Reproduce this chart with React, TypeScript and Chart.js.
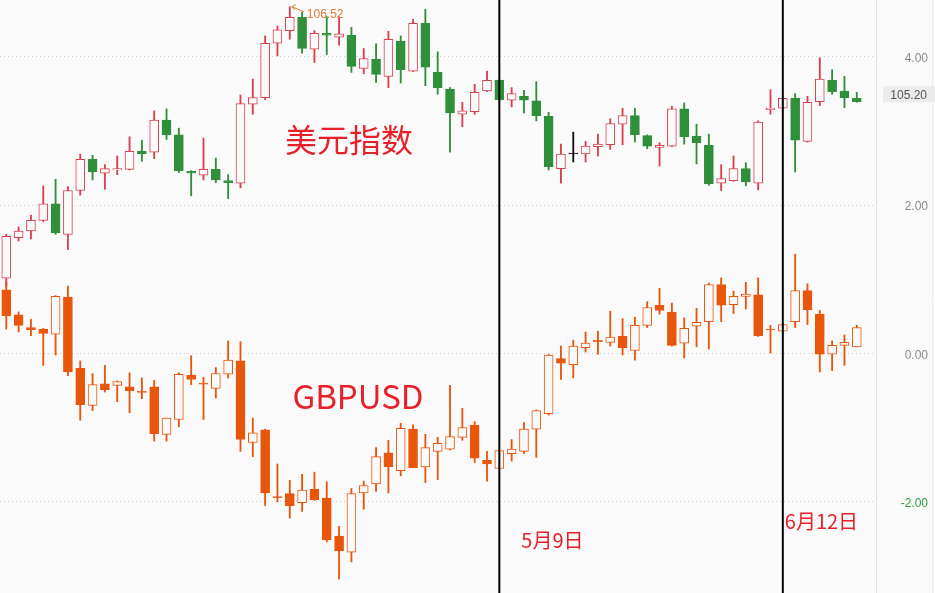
import React, { useEffect, useRef } from 'react';
import { Chart, registerables } from 'chart.js';

Chart.register(...registerables);

// ---- 美元指数 (DXY) daily candles, price units ----
const dxyOpen = [102.43, 103.04, 103.14, 103.30, 103.55, 103.09, 103.75, 104.22, 104.01, 104.06, 104.07, 104.34, 104.33, 104.81, 104.59, 104.04, 103.98, 104.07, 103.90, 103.86, 105.05, 105.15, 105.97, 106.16, 106.36, 105.88, 106.12, 106.06, 106.09, 105.59, 105.73, 105.47, 106.00, 105.55, 106.27, 105.53, 105.28, 104.90, 104.94, 105.25, 105.41, 105.11, 105.17, 105.10, 104.87, 104.08, 104.30, 104.30, 104.41, 104.44, 104.75, 104.88, 104.58, 104.40, 104.42, 104.98, 104.57, 104.43, 103.86, 103.90, 104.08, 103.86, 104.97, 104.99, 105.14, 104.49, 105.09, 105.41, 105.25, 105.14];
const dxyHigh = [103.09, 103.20, 103.38, 103.82, 103.92, 103.81, 104.30, 104.28, 104.14, 104.27, 104.56, 104.51, 104.95, 104.98, 104.69, 104.05, 104.54, 104.24, 103.99, 105.19, 105.43, 106.08, 106.23, 106.52, 106.44, 106.16, 106.37, 106.37, 106.21, 105.89, 105.96, 106.15, 106.08, 106.33, 106.48, 105.84, 105.30, 105.08, 105.35, 105.55, 105.42, 105.30, 105.26, 105.39, 104.93, 104.45, 104.63, 104.49, 104.60, 104.83, 104.99, 104.99, 104.59, 104.47, 105.02, 105.07, 104.75, 104.60, 104.14, 104.27, 104.17, 104.80, 105.27, 105.15, 105.21, 105.17, 105.75, 105.57, 105.47, 105.23];
const dxyLow = [102.31, 102.99, 103.02, 103.28, 103.09, 102.86, 103.68, 103.91, 103.77, 103.99, 104.06, 104.19, 104.23, 104.52, 104.02, 103.67, 103.91, 103.87, 103.63, 103.79, 104.90, 105.12, 105.78, 106.03, 105.82, 105.68, 105.80, 105.94, 105.53, 105.51, 105.38, 105.30, 105.37, 105.54, 105.33, 105.20, 104.33, 104.71, 104.90, 105.24, 105.11, 105.01, 104.92, 104.80, 104.06, 103.86, 104.18, 104.18, 104.27, 104.37, 104.44, 104.48, 104.38, 104.12, 104.41, 104.45, 104.15, 103.83, 103.75, 103.89, 103.82, 103.76, 104.90, 104.98, 104.03, 104.48, 105.03, 105.20, 105.00, 105.08];
const dxyClose = [103.06, 103.14, 103.30, 103.55, 103.11, 103.75, 104.22, 104.03, 104.08, 104.08, 104.34, 104.30, 104.81, 104.59, 104.05, 104.01, 104.07, 103.91, 103.87, 105.06, 105.15, 105.97, 106.17, 106.36, 105.89, 106.12, 106.09, 106.11, 105.62, 105.74, 105.50, 106.03, 105.57, 106.27, 105.61, 105.30, 104.92, 104.95, 105.23, 105.41, 105.12, 105.21, 105.11, 104.88, 104.11, 104.30, 104.30, 104.42, 104.45, 104.76, 104.88, 104.59, 104.42, 104.43, 104.98, 104.56, 104.47, 103.85, 103.93, 104.08, 103.88, 104.78, 104.99, 105.14, 104.51, 105.08, 105.43, 105.24, 105.15, 105.09];
const dxyLastPrice = 105.20;

// ---- GBPUSD daily candles, % change (right axis) ----
const gbpOpen = [0.86, 0.52, 0.35, 0.33, 0.26, 0.76, -0.20, -0.70, -0.41, -0.43, -0.45, -0.51, -0.45, -1.09, -0.89, -0.29, -0.40, -0.47, -0.28, -0.10, -1.20, -1.03, -1.93, -1.89, -2.01, -1.83, -1.95, -2.46, -2.68, -1.88, -1.76, -1.34, -1.58, -1.02, -1.53, -1.32, -1.29, -1.13, -0.97, -1.44, -1.55, -1.35, -1.32, -1.02, -0.81, -0.07, -0.15, 0.08, 0.18, 0.15, 0.23, 0.04, 0.38, 0.65, 0.56, 0.14, 0.37, 0.43, 0.93, 0.66, 0.77, 0.79, 0.33, 0.30, 0.43, 0.85, 0.53, -0.01, 0.11, 0.09];
const gbpHigh = [0.96, 0.56, 0.46, 0.34, 0.78, 0.91, -0.10, -0.27, -0.16, -0.37, -0.26, -0.33, -0.36, -0.87, -0.26, -0.03, -0.32, -0.19, 0.17, 0.16, -0.87, -1.02, -1.49, -1.71, -1.63, -1.60, -1.73, -2.33, -1.82, -1.72, -1.27, -1.17, -0.94, -0.96, -1.09, -1.13, -0.43, -0.74, -0.92, -1.32, -1.30, -1.16, -0.93, -0.76, -0.01, 0.10, 0.18, 0.29, 0.30, 0.57, 0.47, 0.49, 0.70, 0.88, 0.68, 0.48, 0.61, 0.95, 1.02, 0.84, 0.96, 1.02, 0.38, 0.39, 1.34, 0.94, 0.58, 0.17, 0.25, 0.38];
const gbpLow = [0.33, 0.29, 0.24, -0.16, -0.02, -0.30, -0.90, -0.77, -0.52, -0.65, -0.80, -0.61, -1.18, -1.18, -0.99, -0.42, -0.89, -0.60, -0.33, -1.32, -1.39, -2.05, -2.00, -2.22, -2.13, -1.98, -2.54, -3.04, -2.81, -2.10, -1.86, -1.88, -1.65, -1.54, -1.74, -1.70, -1.30, -1.17, -1.47, -1.72, -1.55, -1.45, -1.35, -1.40, -0.83, -0.35, -0.33, 0.02, -0.01, 0.10, -0.02, -0.09, 0.35, 0.53, 0.10, -0.06, 0.09, 0.06, 0.43, 0.54, 0.60, 0.23, 0.00, 0.30, 0.35, 0.39, -0.25, -0.23, -0.16, 0.09];
const gbpClose = [0.51, 0.38, 0.32, 0.27, 0.77, -0.25, -0.69, -0.42, -0.49, -0.38, -0.50, -0.51, -1.08, -0.87, -0.28, -0.35, -0.40, -0.27, -0.09, -1.16, -1.07, -1.88, -1.93, -2.05, -1.84, -1.97, -2.51, -2.66, -1.89, -1.78, -1.39, -1.53, -1.01, -1.54, -1.27, -1.21, -1.12, -1.00, -1.41, -1.49, -1.31, -1.29, -1.02, -0.77, -0.02, -0.13, 0.10, 0.14, 0.16, 0.22, 0.08, 0.38, 0.62, 0.58, 0.11, 0.34, 0.42, 0.93, 0.65, 0.77, 0.80, 0.24, 0.33, 0.39, 0.85, 0.59, -0.01, 0.11, 0.15, 0.35];

const yTicks = [-2, 0, 2, 4];
const markerIndex = [40, 63];
const markerLabels = ['5月9日', '6月12日'];
const seriesLabels = ['美元指数', 'GBPUSD'];

const BG = '#fafafa';
const UP_RED = '#d8404e';
const DOWN_GREEN = '#2f8f3b';
const GBP_ORANGE = '#e8560c';
const TEXT_RED = '#e8202a';

function dxyColor(i: number) {
  if (dxyClose[i] > dxyOpen[i]) return UP_RED;
  if (dxyClose[i] < dxyOpen[i]) return DOWN_GREEN;
  return '#111111';
}

export default function App() {
  const ref = useRef<HTMLCanvasElement | null>(null);

  useEffect(() => {
    if (!ref.current) return;
    const idx = dxyOpen.map((_, i) => i);

    const overlay = {
      id: 'overlay',
      afterDatasetsDraw(chart: any) {
        const { ctx, chartArea, scales } = chart;
        const x = scales.x;
        const yD = scales.yD;
        ctx.save();
        // vertical markers
        markerIndex.forEach((m, k) => {
          const px = x.getPixelForValue(m);
          ctx.strokeStyle = '#000';
          ctx.lineWidth = 2;
          ctx.beginPath();
          ctx.moveTo(px, 0);
          ctx.lineTo(px, chart.height);
          ctx.stroke();
          ctx.fillStyle = TEXT_RED;
          ctx.font = '20px "Noto Sans CJK SC", sans-serif';
          ctx.textAlign = 'left';
          ctx.textBaseline = 'middle';
          const dx = k === 0 ? 22 : 2;
          const ty = k === 0 ? 540 : 521;
          ctx.fillText(markerLabels[k], px + dx, ty);
        });
        // series labels
        ctx.fillStyle = TEXT_RED;
        ctx.textAlign = 'center';
        ctx.textBaseline = 'middle';
        ctx.font = '32px "Noto Sans CJK SC", sans-serif';
        ctx.fillText(seriesLabels[0], 349, 140);
        ctx.font = '33px "Noto Sans CJK SC", sans-serif';
        ctx.fillText(seriesLabels[1], 358, 396);

        // highest high annotation
        let hi = 0;
        dxyHigh.forEach((h, i) => { if (h > dxyHigh[hi]) hi = i; });
        const hx = x.getPixelForValue(hi);
        const hy = yD.getPixelForValue(dxyHigh[hi]);
        ctx.strokeStyle = '#e07b39';
        ctx.lineWidth = 1;
        ctx.beginPath();
        ctx.moveTo(hx + 2, hy);
        ctx.lineTo(hx + 14, hy + 5);
        ctx.moveTo(hx + 2, hy);
        ctx.lineTo(hx + 6, hy - 2);
        ctx.moveTo(hx + 2, hy);
        ctx.lineTo(hx + 5, hy + 3);
        ctx.stroke();
        ctx.fillStyle = '#e07b39';
        ctx.font = '12px "Liberation Sans", Arial, sans-serif';
        ctx.textAlign = 'left';
        ctx.textBaseline = 'middle';
        ctx.fillText(dxyHigh[hi].toFixed(2), hx + 17, hy + 8);

        // last price tag
        const ly = yD.getPixelForValue(dxyLastPrice);
        ctx.fillStyle = '#ececec';
        ctx.fillRect(chartArea.right + 7, ly - 8, chart.width - chartArea.right - 7, 16);
        ctx.fillStyle = '#555';
        ctx.font = '12px "Liberation Sans", Arial, sans-serif';
        ctx.textAlign = 'right';
        ctx.fillText(dxyLastPrice.toFixed(2), 927, ly + 1);
        // faint right frame line
        ctx.strokeStyle = '#ececec';
        ctx.beginPath();
        ctx.moveTo(932.5, 0);
        ctx.lineTo(932.5, chart.height);
        ctx.stroke();
        ctx.restore();
      },
    };

    const chart = new Chart(ref.current, {
      type: 'bar',
      data: {
        datasets: [
          {
            label: 'DXY body',
            data: idx.map((i) => ({ x: i, y: [dxyOpen[i], dxyClose[i]] })) as any,
            yAxisID: 'yD',
            backgroundColor: idx.map((i) => (dxyClose[i] > dxyOpen[i] ? BG : dxyColor(i))),
            borderColor: idx.map((i) => dxyColor(i)),
            borderWidth: 1,
            borderSkipped: false,
            barThickness: 9,
            minBarLength: 1,
            order: 1,
          } as any,
          {
            label: 'DXY wick',
            data: idx.map((i) => ({ x: i, y: [dxyLow[i], dxyHigh[i]] })) as any,
            yAxisID: 'yD',
            backgroundColor: idx.map((i) => dxyColor(i)),
            borderWidth: 0,
            barThickness: 1.2,
            order: 3,
          } as any,
          {
            label: 'GBPUSD body',
            data: idx.map((i) => ({ x: i, y: [gbpOpen[i], gbpClose[i]] })) as any,
            yAxisID: 'y',
            backgroundColor: idx.map((i) => (gbpClose[i] > gbpOpen[i] ? BG : GBP_ORANGE)),
            borderColor: GBP_ORANGE,
            borderWidth: 1,
            borderSkipped: false,
            barThickness: 9,
            minBarLength: 1,
            order: 1,
          } as any,
          {
            label: 'GBPUSD wick',
            data: idx.map((i) => ({ x: i, y: [gbpLow[i], gbpHigh[i]] })) as any,
            yAxisID: 'y',
            backgroundColor: GBP_ORANGE,
            borderWidth: 0,
            barThickness: 1.2,
            order: 3,
          } as any,
        ],
      },
      options: {
        animation: false,
        responsive: false,
        events: [],
        layout: { padding: { left: 0, top: 0, bottom: 0, right: 7 } },
        datasets: { bar: { grouped: false } } as any,
        plugins: { legend: { display: false }, tooltip: { enabled: false } },
        scales: {
          x: { type: 'linear', min: -0.51, max: 70.56, offset: false, display: false },
          yD: { type: 'linear', display: false, min: 97.686, max: 106.621 },
          y: {
            type: 'linear',
            position: 'right',
            min: -3.229,
            max: 4.766,
            afterBuildTicks: (s: any) => { s.ticks = yTicks.map((v) => ({ value: v })); },
            afterFit: (s: any) => { s.width = 52; s.paddingTop = 0; s.paddingBottom = 0; },
            ticks: {
              callback: (v: any) => Number(v).toFixed(2),
              color: (c: any) => (c.tick && c.tick.value < 0 ? '#2e9a44' : '#8a8a8a'),
              font: { size: 12, family: '"Liberation Sans", Arial, sans-serif' },
              crossAlign: 'far',
              padding: 10,
              labelOffset: 2,
            },
            grid: { drawTicks: false, color: '#cfcfcf', lineWidth: 1 },
            border: { display: true, color: '#e4e4e4', width: 1, dash: [1, 3] },
          } as any,
        },
      } as any,
      plugins: [overlay],
    });
    return () => chart.destroy();
  }, []);

  return (
    <div style={{ position: 'absolute', left: 0, top: 0, width: 935, height: 593, background: BG }}>
      <canvas ref={ref} width={935} height={593} style={{ display: 'block' }} />
    </div>
  );
}
